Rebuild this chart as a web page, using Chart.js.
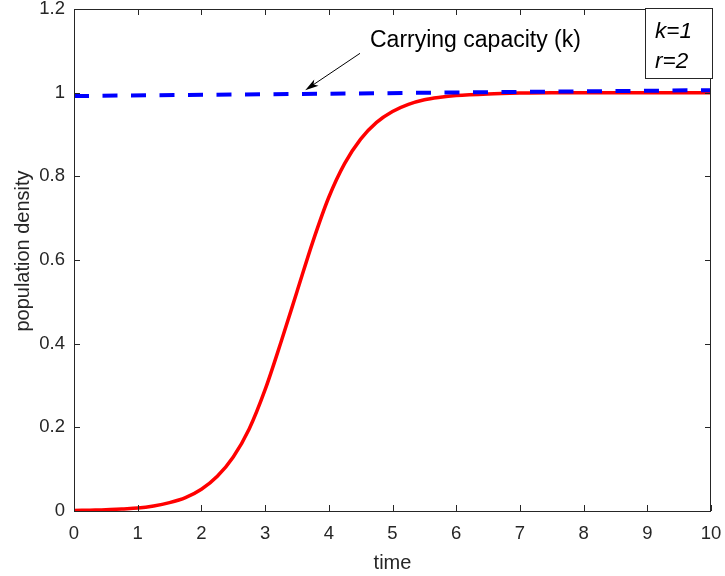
<!DOCTYPE html>
<html>
<head>
<meta charset="utf-8">
<script src="https://cdn.jsdelivr.net/npm/chart.js@4/dist/chart.umd.min.js"></script>
<style>
  html, body { margin: 0; padding: 0; background: #fff; }
  #wrap { width: 725px; height: 576px; }
</style>
</head>
<body>
<div id="wrap"><canvas id="chart" width="725" height="576"></canvas></div>
<script>
// values
const timePoints = [0, 0.25, 0.5, 0.75, 1, 1.25, 1.5, 1.75, 2, 2.25, 2.5, 2.75, 3, 3.25, 3.5, 3.75, 4,
  4.25, 4.5, 4.75, 5, 5.25, 5.5, 5.75, 6, 6.5, 7, 7.5, 8, 8.5, 9, 9.5, 10];
const density = [0.001, 0.002, 0.003, 0.005, 0.007, 0.012, 0.020, 0.032, 0.052, 0.083, 0.129, 0.196,
  0.290, 0.404, 0.524, 0.644, 0.750, 0.831, 0.889, 0.929, 0.955, 0.972, 0.983, 0.989, 0.993,
  0.997, 0.999, 1.0, 1.0, 1.0, 1.0, 1.0, 1.0];
const capacityTime = [0, 10];
const capacity = [0.992, 1.006];
const xTicks = [0, 1, 2, 3, 4, 5, 6, 7, 8, 9, 10];
const yTicks = [0, 0.2, 0.4, 0.6, 0.8, 1, 1.2];

const FONT = '"Liberation Sans", Arial, Helvetica, sans-serif';
const INK = '#262626';

function toPoints(xs, ys) {
  return xs.map((x, i) => ({ x: x, y: ys[i] }));
}

/*
  Draws the MATLAB-like box, inward ticks, axis titles, arrow note and the k/r box.
*/
const matlabDecor = {
  id: 'matlabDecor',
  afterDraw(chart) {
    const ctx = chart.ctx;
    const a = chart.chartArea;
    const xs = chart.scales.x;
    const ys = chart.scales.y;
    const tick = 6;

    ctx.save();
    ctx.strokeStyle = INK;
    ctx.lineWidth = 1;
    ctx.strokeRect(a.left + 0.5, a.top + 0.5, a.right - a.left - 1, a.bottom - a.top);

    ctx.beginPath();
    xTicks.forEach(v => {
      const px = Math.round(xs.getPixelForValue(v)) + 0.5;
      ctx.moveTo(px, a.bottom); ctx.lineTo(px, a.bottom - tick);
      ctx.moveTo(px, a.top); ctx.lineTo(px, a.top + tick);
    });
    yTicks.forEach(v => {
      const py = Math.round(ys.getPixelForValue(v)) + 0.5;
      ctx.moveTo(a.left, py); ctx.lineTo(a.left + tick, py);
      ctx.moveTo(a.right, py); ctx.lineTo(a.right - tick, py);
    });
    ctx.stroke();

    // axis titles
    ctx.fillStyle = INK;
    ctx.font = '20px ' + FONT;
    ctx.textAlign = 'center';
    ctx.textBaseline = 'alphabetic';
    ctx.fillText('time', (a.left + a.right) / 2, 569);
    ctx.save();
    ctx.translate(29, 251);
    ctx.rotate(-Math.PI / 2);
    ctx.fillText('population density', 0, 0);
    ctx.restore();

    // annotation arrow
    const tx = xs.getPixelForValue(4.49), ty = ys.getPixelForValue(1.094);
    const hx = xs.getPixelForValue(3.63), hy = ys.getPixelForValue(1.006);
    const ang = Math.atan2(hy - ty, hx - tx);
    ctx.strokeStyle = '#000';
    ctx.lineWidth = 1;
    ctx.beginPath();
    ctx.moveTo(tx, ty);
    ctx.lineTo(hx - 8 * Math.cos(ang), hy - 8 * Math.sin(ang));
    ctx.stroke();
    ctx.fillStyle = '#000';
    ctx.beginPath();
    ctx.moveTo(hx, hy);
    ctx.lineTo(hx - 14 * Math.cos(ang - 0.28), hy - 14 * Math.sin(ang - 0.28));
    ctx.lineTo(hx - 10 * Math.cos(ang), hy - 10 * Math.sin(ang));
    ctx.lineTo(hx - 14 * Math.cos(ang + 0.28), hy - 14 * Math.sin(ang + 0.28));
    ctx.closePath();
    ctx.fill();

    ctx.fillStyle = '#000';
    ctx.font = '23px ' + FONT;
    ctx.textAlign = 'left';
    ctx.fillText('Carrying capacity (k)', 370, 47);

    // parameter box
    ctx.fillStyle = '#fff';
    ctx.fillRect(645, 8, 67, 70);
    ctx.strokeStyle = INK;
    ctx.strokeRect(645.5, 8.5, 67, 70);
    ctx.fillStyle = '#000';
    ctx.font = 'italic 22.5px ' + FONT;
    ctx.fillText('k=1', 655, 38);
    ctx.fillText('r=2', 655, 68);
    ctx.restore();
  }
};

new Chart(document.getElementById('chart'), {
  type: 'line',
  data: {
    datasets: [
      {
        data: toPoints(timePoints, density),
        borderColor: '#ff0000',
        borderWidth: 3.5,
        pointRadius: 0,
        cubicInterpolationMode: 'monotone',
        order: 2
      },
      {
        data: toPoints(capacityTime, capacity),
        borderColor: '#0000ff',
        borderWidth: 4,
        borderDash: [15, 13.5],
        pointRadius: 0,
        order: 1
      }
    ]
  },
  options: {
    responsive: false,
    animation: false,
    layout: { padding: { top: 9, right: 14, left: 0, bottom: 0 } },
    plugins: { legend: { display: false }, tooltip: { enabled: false } },
    scales: {
      x: {
        type: 'linear',
        min: 0,
        max: 10,
        afterBuildTicks: s => { s.ticks = xTicks.map(v => ({ value: v })); },
        afterFit: s => { s.height = 65; s.paddingLeft = 0; s.paddingRight = 0; },
        grid: { display: false, drawTicks: false },
        border: { display: false },
        ticks: { color: INK, font: { family: FONT, size: 18.5 }, padding: 12, maxRotation: 0 }
      },
      y: {
        type: 'linear',
        min: 0,
        max: 1.2,
        afterBuildTicks: s => { s.ticks = yTicks.map(v => ({ value: v })); },
        afterFit: s => { s.width = 74; s.paddingTop = 0; s.paddingBottom = 0; },
        grid: { display: false, drawTicks: false },
        border: { display: false },
        ticks: {
          color: INK,
          font: { family: FONT, size: 18.5 },
          padding: 9,
          callback: v => String(Math.round(v * 10) / 10)
        }
      }
    }
  },
  plugins: [matlabDecor]
});
</script>
</body>
</html>
